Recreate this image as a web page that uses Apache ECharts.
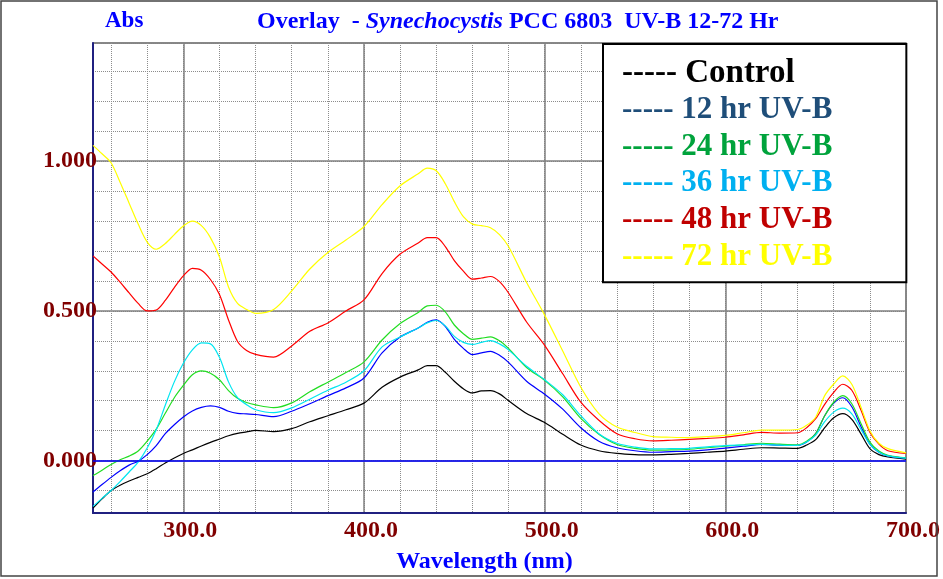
<!DOCTYPE html>
<html>
<head>
<meta charset="utf-8">
<title>Overlay - Synechocystis PCC 6803 UV-B 12-72 Hr</title>
<script src="https://cdn.jsdelivr.net/npm/echarts@6/dist/echarts.min.js"></script>
<style>
html, body { margin: 0; padding: 0; background: #fff; }
#chart { width: 943px; height: 579px; }
</style>
</head>
<body>
<div id="chart"></div>
<script>
// wavelength (nm) of each reading
var wavelengths = [250,255,260,265,270,275,280,285,290,295,300,305,310,315,320,325,330,335,340,
    350,360,370,380,390,400,410,420,430,
    435,440,445,450,455,460,465,470,475,480,
    490,500,510,520,530,540,550,560,570,580,590,600,610,620,630,640,
    645,650,655,660,665,670,675,680,685,690,
    700];

// absorbance values
var control = [-0.159,-0.128,-0.100,-0.082,-0.068,-0.056,-0.044,-0.027,-0.008,0.009,0.024,0.036,0.049,0.061,0.072,0.083,0.091,0.096,0.101,
    0.097,0.107,0.130,0.150,0.170,0.192,0.245,0.279,0.303,
    0.317,0.317,0.295,0.265,0.240,0.226,0.233,0.234,0.223,0.200,
    0.157,0.127,0.088,0.052,0.033,0.024,0.020,0.019,0.021,0.024,0.028,0.032,0.038,0.043,0.042,0.041,
    0.052,0.070,0.110,0.143,0.157,0.138,0.090,0.040,0.020,0.012,
    0.005];
var uv12 = [-0.105,-0.080,-0.056,-0.034,-0.015,-0.002,0.020,0.050,0.090,0.120,0.146,0.166,0.178,0.183,0.178,0.165,0.158,0.156,0.154,
    0.147,0.165,0.190,0.217,0.243,0.276,0.360,0.413,0.443,
    0.462,0.470,0.448,0.405,0.375,0.354,0.360,0.365,0.352,0.328,
    0.265,0.222,0.172,0.110,0.065,0.043,0.033,0.028,0.030,0.032,0.036,0.042,0.048,0.054,0.052,0.051,
    0.062,0.090,0.150,0.192,0.210,0.180,0.115,0.055,0.028,0.016,
    0.008];
var uv24 = [-0.050,-0.032,-0.013,0.003,0.015,0.032,0.065,0.105,0.158,0.210,0.251,0.287,0.300,0.292,0.270,0.234,0.208,0.194,0.186,
    0.177,0.193,0.230,0.262,0.294,0.330,0.403,0.458,0.495,
    0.517,0.519,0.497,0.453,0.424,0.405,0.409,0.413,0.400,0.375,
    0.311,0.268,0.213,0.141,0.088,0.054,0.041,0.035,0.036,0.038,0.043,0.048,0.053,0.058,0.055,0.053,
    0.065,0.090,0.150,0.195,0.217,0.190,0.125,0.062,0.032,0.018,
    0.009];
var uv36 = [-0.153,-0.126,-0.100,-0.070,-0.038,-0.005,0.042,0.103,0.185,0.263,0.325,0.370,0.393,0.390,0.345,0.263,0.210,0.187,0.170,
    0.160,0.176,0.205,0.235,0.262,0.300,0.380,0.413,0.443,
    0.460,0.468,0.450,0.415,0.395,0.388,0.395,0.401,0.390,0.370,
    0.315,0.270,0.220,0.150,0.090,0.058,0.045,0.039,0.040,0.041,0.046,0.050,0.052,0.054,0.052,0.051,
    0.062,0.085,0.130,0.162,0.175,0.156,0.105,0.054,0.028,0.016,
    0.008];
var uv48 = [0.684,0.657,0.630,0.596,0.560,0.525,0.500,0.503,0.535,0.578,0.617,0.642,0.636,0.605,0.555,0.470,0.398,0.368,0.355,
    0.346,0.383,0.432,0.460,0.500,0.537,0.625,0.690,0.727,
    0.745,0.745,0.715,0.668,0.633,0.606,0.610,0.615,0.598,0.560,
    0.463,0.385,0.290,0.195,0.135,0.090,0.073,0.066,0.068,0.071,0.074,0.078,0.086,0.094,0.092,0.093,
    0.110,0.140,0.188,0.228,0.255,0.235,0.170,0.095,0.055,0.033,
    0.024];
var uv72 = [1.053,1.025,0.995,0.930,0.860,0.790,0.730,0.706,0.725,0.755,0.784,0.800,0.785,0.745,0.680,0.580,0.525,0.505,0.492,
    0.505,0.567,0.640,0.695,0.737,0.782,0.855,0.918,0.958,
    0.977,0.968,0.925,0.865,0.815,0.790,0.785,0.778,0.755,0.715,
    0.595,0.486,0.366,0.245,0.157,0.112,0.094,0.080,0.078,0.077,0.080,0.084,0.093,0.102,0.102,0.104,
    0.118,0.145,0.217,0.256,0.283,0.255,0.180,0.100,0.058,0.040,
    0.026];

var seriesNames = ['Control', '12 hr UV-B', '24 hr UV-B', '36 hr UV-B', '48 hr UV-B', '72 hr UV-B'];
var seriesValues = [control, uv12, uv24, uv36, uv48, uv72];
var lineColors = ['#000000', '#0000ff', '#22dd22', '#00e5f0', '#ff0000', '#ffff00'];
var legendColors = ['#000000', '#1f4e79', '#00a33c', '#00b0f0', '#c00000', '#ffff00'];

// tick labels
var xTickValues = [300, 400, 500, 600, 700];
var xTickLabels = ['300.0', '400.0', '500.0', '600.0', '700.0'];
var yTickValues = [0, 0.5, 1.0];
var yTickLabels = ['0.000', '0.500', '1.000'];

var FONT = '"Liberation Serif", "Times New Roman", serif';
var NAVY = '#202080';

function tickLabel(values, labels) {
    return function (v) {
        for (var i = 0; i < values.length; i++) {
            if (Math.abs(v - values[i]) < 1e-6) return labels[i];
        }
        return '';
    };
}

var dom = document.getElementById('chart');
var myChart = echarts.init(dom, null, { renderer: 'canvas' });

var series = seriesNames.map(function (name, i) {
    var s = {
        name: name,
        type: 'line',
        xAxisIndex: 0,
        yAxisIndex: 0,
        data: wavelengths.map(function (w, j) { return [w, seriesValues[i][j]]; }),
        showSymbol: false,
        smooth: 0.3,
        silent: true,
        lineStyle: { color: lineColors[i], width: 1.2 },
        itemStyle: { color: lineColors[i] }
    };
    if (i === 0) {
        s.markLine = {
            silent: true,
            symbol: 'none',
            label: { show: false },
            lineStyle: { color: '#0000ff', width: 1.5, type: 'solid' },
            data: [{ yAxis: 0 }]
        };
    }
    return s;
});

var option = {
    animation: false,
    backgroundColor: '#ffffff',
    title: [
        {
            text: 'Abs',
            left: 105,
            top: 10,
            padding: 0,
            textStyle: { color: '#0000ff', fontFamily: FONT, fontWeight: 'bold', fontSize: 23 }
        },
        {
            text: '{a|Overlay  - }{b|Synechocystis}{a| PCC 6803  UV-B 12-72 Hr}',
            left: 257,
            top: 10,
            padding: 0,
            textStyle: {
                rich: {
                    a: { color: '#0000ff', fontFamily: FONT, fontWeight: 'bold', fontSize: 24 },
                    b: { color: '#0000ff', fontFamily: FONT, fontWeight: 'bold', fontStyle: 'italic', fontSize: 24 }
                }
            }
        }
    ],
    legend: {
        orient: 'vertical',
        left: 603,
        top: 44,
        padding: [11, 74, 7, 13],
        itemWidth: 0,
        itemHeight: 0,
        itemGap: 0,
        backgroundColor: '#ffffff',
        borderColor: '#000000',
        borderWidth: 2,
        selectedMode: false,
        formatter: function (name) { return '----- ' + name; },
        textStyle: { fontFamily: FONT, fontWeight: 'bold', fontSize: 31, lineHeight: 36.7 },
        data: seriesNames.map(function (name, i) {
            return { name: name, textStyle: { color: legendColors[i], fontSize: i === 0 ? 33 : 31 } };
        })
    },
    grid: {
        left: 93,
        right: 37,
        top: 43,
        bottom: 64,
        show: true,
        backgroundColor: '#ffffff',
        borderColor: '#808080',
        borderWidth: 1.5
    },
    xAxis: [
        {
            type: 'value',
            min: 250,
            max: 700,
            minInterval: 20,
            maxInterval: 20,
            position: 'bottom',
            name: 'Wavelength (nm)',
            nameLocation: 'middle',
            nameGap: 37,
            nameTextStyle: { color: '#0000ff', fontFamily: FONT, fontWeight: 'bold', fontSize: 24, padding: [0, 30, 0, 0] },
            axisLine: { show: true, onZero: false, lineStyle: { color: NAVY, width: 2 } },
            axisTick: { show: false },
            axisLabel: { show: false },
            splitLine: { show: true, lineStyle: { color: '#8c8c8c', width: 1, type: 'dotted' } }
        },
        {
            type: 'value',
            min: 250,
            max: 700,
            minInterval: 100,
            maxInterval: 100,
            position: 'bottom',
            axisLine: { show: false, onZero: false },
            axisTick: { show: false },
            axisLabel: {
                show: true,
                formatter: tickLabel(xTickValues, xTickLabels),
                color: '#800000',
                fontFamily: FONT,
                fontWeight: 'bold',
                fontSize: 24,
                margin: 6,
                padding: [0, 0, 0, 14]
            },
            splitLine: { show: true, lineStyle: { color: '#808080', width: 1.5, type: 'solid' } }
        }
    ],
    yAxis: [
        {
            type: 'value',
            min: -0.175,
            max: 1.395,
            minInterval: 0.1,
            maxInterval: 0.1,
            position: 'left',
            axisLine: { show: true, onZero: false, lineStyle: { color: NAVY, width: 2 } },
            axisTick: { show: false },
            axisLabel: { show: false },
            splitLine: { show: true, lineStyle: { color: '#8c8c8c', width: 1, type: 'dotted' } }
        },
        {
            type: 'value',
            min: -0.175,
            max: 1.395,
            minInterval: 0.5,
            maxInterval: 0.5,
            position: 'left',
            axisLine: { show: false, onZero: false },
            axisTick: { show: false },
            axisLabel: {
                show: true,
                formatter: tickLabel(yTickValues, yTickLabels),
                color: '#800000',
                fontFamily: FONT,
                fontWeight: 'bold',
                fontSize: 24,
                margin: -4
            },
            splitLine: { show: true, lineStyle: { color: '#808080', width: 1.5, type: 'solid' } }
        }
    ],
    graphic: [
        {
            type: 'rect',
            silent: true,
            z: 100,
            shape: { x: 1, y: 1, width: 936, height: 575 },
            style: { fill: 'none', stroke: '#444444', lineWidth: 1.5 }
        }
    ],
    series: series
};

if (option && typeof option === 'object') {
    myChart.setOption(option, true);
}
</script>
</body>
</html>
